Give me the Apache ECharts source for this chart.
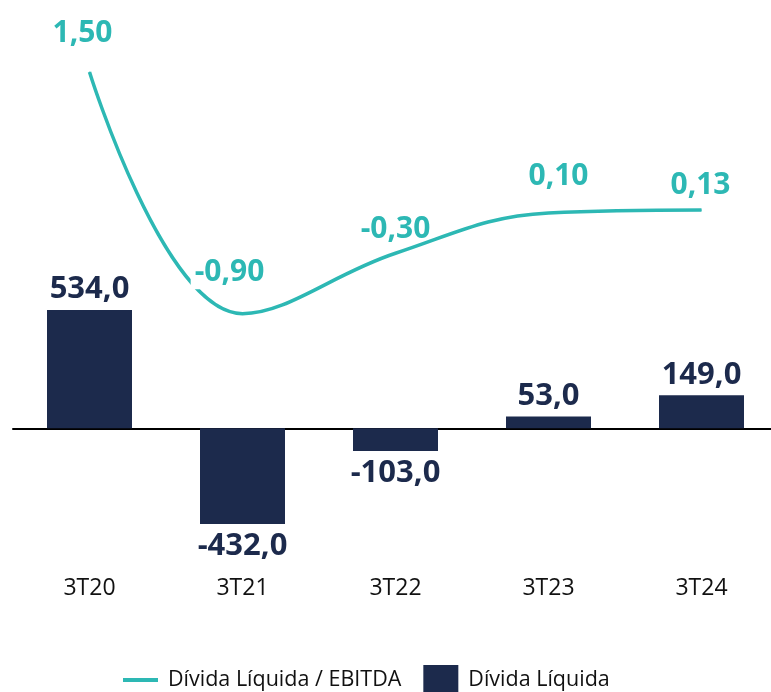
<!DOCTYPE html>
<html>
<head>
<meta charset="utf-8">
<script src="https://cdn.jsdelivr.net/npm/echarts@6/dist/echarts.min.js"></script>
<style>
  html, body { margin: 0; padding: 0; background: #fff; }
  #chart { width: 771px; height: 692px; }
</style>
</head>
<body>
<div id="chart"></div>
<script>
var categories = ["3T20", "3T21", "3T22", "3T23", "3T24"];
var dividaLiquida = [534.0, -432.0, -103.0, 53.0, 149.0];
var dividaEbitda = [1.50, -0.90, -0.30, 0.10, 0.13];

var navy = "#1c2a4c";
var teal = "#2db8b4";
var fontFamily = "'Open Sans', 'Noto Sans', sans-serif";

function fmt(v, d) {
  return v.toFixed(d).replace(".", ",");
}

// hand placed labels, like the original
var lineLabelOffsets = [[-7, -18], [-13, -19], [0, -3], [10, -16], [-1, -4]];

var barData = dividaLiquida.map(function (v) {
  return {
    value: v,
    label: { position: v < 0 ? "bottom" : "top", distance: v < 0 ? 7 : 5 }
  };
});
var lineData = dividaEbitda.map(function (v, i) {
  var lbl = { offset: lineLabelOffsets[i] };
  // only the label sitting on the curve hides it
  if (i === 1) {
    lbl.backgroundColor = "#fff";
    lbl.padding = [2, 4];
  }
  return { value: v, label: lbl };
});

var chart = echarts.init(document.getElementById("chart"));
chart.setOption({
  animation: false,
  textStyle: { fontFamily: fontFamily },
  grid: { left: 13, right: -7, top: 72, bottom: 120, outerBoundsMode: "none", containLabel: false },
  legend: {
    top: 660,
    left: 116,
    itemWidth: 35,
    itemHeight: 30,
    itemGap: 22,
    textStyle: { fontSize: 21.5, color: "#111", padding: [0, 0, 0, 5] },
    data: [
      { name: "Dívida Líquida / EBITDA", itemStyle: { opacity: 0 }, lineStyle: { width: 4 } },
      { name: "Dívida Líquida", icon: "rect" }
    ]
  },
  xAxis: [
    {
      type: "category",
      data: categories,
      axisLine: { onZero: true, onZeroAxisIndex: 0, lineStyle: { color: "#000", width: 2 } },
      axisTick: { show: false },
      axisLabel: { show: false }
    },
    {
      type: "category",
      data: categories,
      position: "bottom",
      axisLine: { show: false, onZero: false },
      axisTick: { show: false },
      axisLabel: { margin: 5, fontSize: 23, color: "#111" }
    }
  ],
  yAxis: [
    { type: "value", show: false, min: -648.8, max: 1608.6, splitLine: { show: false } },
    { type: "value", show: false, min: -3.465, max: 1.5, splitLine: { show: false } }
  ],
  series: [
    {
      name: "Dívida Líquida",
      type: "bar",
      xAxisIndex: 0,
      yAxisIndex: 0,
      barWidth: 85,
      data: barData,
      itemStyle: { color: navy },
      label: {
        show: true,
        fontSize: 31,
        fontWeight: "bold",
        color: navy,
        formatter: function (p) { return fmt(p.value, 1); }
      },
      z: 2
    },
    {
      name: "Dívida Líquida / EBITDA",
      type: "line",
      xAxisIndex: 0,
      yAxisIndex: 1,
      smooth: 0.4,
      symbol: "circle",
      symbolSize: 1,
      showSymbol: true,
      data: lineData,
      lineStyle: { color: teal, width: 3.5 },
      itemStyle: { color: teal },
      label: {
        show: true,
        position: "top",
        distance: 5,
        fontSize: 30,
        fontWeight: "bold",
        color: teal,
        formatter: function (p) { return fmt(p.value, 2); }
      },
      z: 3
    }
  ]
});
</script>
</body>
</html>
